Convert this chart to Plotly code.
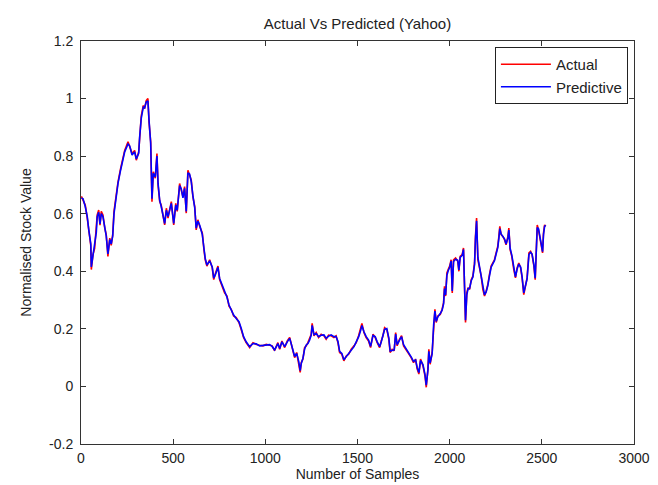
import plotly.graph_objects as go

samples = [
    2, 11, 23, 34, 42, 53, 56, 65, 74, 83,
    88, 96, 103, 110, 119, 129, 137, 146, 156, 164,
    172, 179, 191, 201, 215, 228, 237, 255, 264, 277,
    291, 300, 313, 318, 327, 338, 345, 354, 363, 369,
    378, 385, 392, 403, 412, 418, 427, 435, 445, 454,
    463, 472, 490, 503, 514, 522, 535, 544, 553, 562,
    571, 580, 589, 598, 607, 617, 625, 634, 644, 658,
    667, 674, 683, 698, 712, 720, 730, 743, 752, 766,
    779, 792, 803, 815, 828, 842, 857, 869, 882, 896,
    915, 933, 951, 969, 987, 1005, 1023, 1037, 1050, 1068,
    1078, 1090, 1105, 1119, 1132, 1140, 1150, 1159, 1170, 1181,
    1189, 1195, 1204, 1213, 1222, 1231, 1240, 1249, 1254, 1264,
    1276, 1289, 1303, 1318, 1330, 1343, 1357, 1372, 1384, 1394,
    1403, 1415, 1426, 1439, 1452, 1466, 1481, 1493, 1506, 1517,
    1524, 1535, 1547, 1560, 1571, 1584, 1596, 1607, 1620, 1629,
    1638, 1647, 1659, 1670, 1677, 1688, 1699, 1707, 1715, 1728,
    1739, 1750, 1764, 1779, 1791, 1804, 1815, 1824, 1833, 1842,
    1855, 1866, 1873, 1882, 1887, 1894, 1905, 1913, 1920, 1927,
    1936, 1949, 1959, 1967, 1972, 1978, 1985, 1992, 2000, 2008,
    2014, 2021, 2032, 2044, 2050, 2057, 2068, 2075, 2081, 2086,
    2093, 2100, 2108, 2117, 2126, 2135, 2140, 2146, 2153, 2162,
    2171, 2180, 2189, 2198, 2207, 2216, 2225, 2234, 2243, 2252,
    2261, 2267, 2272, 2279, 2289, 2298, 2306, 2316, 2321, 2328,
    2337, 2348, 2357, 2366, 2375, 2385, 2393, 2402, 2412, 2420,
    2430, 2439, 2447, 2457, 2464, 2469, 2475, 2482, 2489, 2496,
    2504, 2509, 2515, 2521,
]

actual = [
    0.66, 0.648, 0.63, 0.585, 0.55, 0.49, 0.406, 0.458, 0.48, 0.54,
    0.596, 0.613, 0.56, 0.608, 0.596, 0.55, 0.527, 0.452, 0.515, 0.49,
    0.527, 0.608, 0.677, 0.711, 0.757, 0.792, 0.82, 0.85, 0.832, 0.809,
    0.82, 0.786, 0.815, 0.872, 0.94, 0.976, 0.965, 0.993, 1.0, 0.919,
    0.85, 0.642, 0.746, 0.723, 0.809, 0.70, 0.642, 0.63, 0.59, 0.561,
    0.619, 0.585, 0.642, 0.561, 0.636, 0.608, 0.705, 0.682, 0.659, 0.694,
    0.602, 0.751, 0.734, 0.717, 0.659, 0.625, 0.544, 0.579, 0.556, 0.533,
    0.475, 0.44, 0.418, 0.44, 0.412, 0.371, 0.394, 0.418, 0.371, 0.348,
    0.325, 0.314, 0.279, 0.268, 0.245, 0.239, 0.222, 0.198, 0.17, 0.152,
    0.135, 0.152, 0.146, 0.143, 0.141, 0.146, 0.143, 0.141, 0.124, 0.152,
    0.129, 0.158, 0.135, 0.158, 0.17, 0.146, 0.118, 0.10, 0.118, 0.083,
    0.049, 0.083, 0.095, 0.135, 0.141, 0.152, 0.164, 0.181, 0.219, 0.176,
    0.187, 0.17, 0.181, 0.176, 0.164, 0.178, 0.176, 0.17, 0.176, 0.152,
    0.118, 0.112, 0.089, 0.106, 0.112, 0.129, 0.141, 0.152, 0.176, 0.198,
    0.219, 0.187, 0.17, 0.158, 0.135, 0.181, 0.17, 0.152, 0.135, 0.158,
    0.176, 0.204, 0.198, 0.164, 0.118, 0.129, 0.124, 0.187, 0.141, 0.164,
    0.176, 0.141, 0.129, 0.112, 0.10, 0.083, 0.095, 0.06, 0.043, 0.095,
    0.072, 0.037, -0.003, 0.06, 0.129, 0.077, 0.118, 0.222, 0.268, 0.222,
    0.245, 0.25, 0.268, 0.291, 0.348, 0.314, 0.394, 0.406, 0.418, 0.44,
    0.325, 0.44, 0.446, 0.435, 0.40, 0.452, 0.458, 0.481, 0.337, 0.222,
    0.325, 0.343, 0.337, 0.371, 0.383, 0.429, 0.521, 0.585, 0.44, 0.412,
    0.383, 0.337, 0.314, 0.331, 0.354, 0.389, 0.418, 0.429, 0.44, 0.464,
    0.487, 0.521, 0.556, 0.527, 0.521, 0.509, 0.492, 0.521, 0.55, 0.475,
    0.452, 0.406, 0.377, 0.412, 0.429, 0.412, 0.377, 0.319, 0.36, 0.377,
    0.464, 0.469, 0.458, 0.418, 0.371, 0.464, 0.561, 0.544, 0.521, 0.492,
    0.464, 0.533, 0.561, 0.556,
]

predicted = [
    0.655, 0.652, 0.625, 0.59, 0.545, 0.495, 0.415, 0.452, 0.485, 0.535,
    0.59, 0.605, 0.565, 0.60, 0.59, 0.555, 0.522, 0.46, 0.51, 0.495,
    0.522, 0.60, 0.67, 0.706, 0.752, 0.788, 0.815, 0.842, 0.836, 0.804,
    0.815, 0.79, 0.81, 0.865, 0.932, 0.97, 0.968, 0.988, 0.992, 0.925,
    0.845, 0.652, 0.74, 0.728, 0.80, 0.706, 0.646, 0.626, 0.594, 0.566,
    0.612, 0.59, 0.636, 0.566, 0.63, 0.612, 0.698, 0.686, 0.655, 0.688,
    0.608, 0.742, 0.738, 0.712, 0.663, 0.62, 0.55, 0.574, 0.56, 0.528,
    0.48, 0.445, 0.422, 0.436, 0.415, 0.376, 0.39, 0.414, 0.375, 0.352,
    0.328, 0.31, 0.283, 0.265, 0.248, 0.236, 0.225, 0.202, 0.173, 0.155,
    0.138, 0.149, 0.148, 0.141, 0.143, 0.144, 0.145, 0.139, 0.127, 0.149,
    0.132, 0.155, 0.138, 0.155, 0.167, 0.149, 0.121, 0.104, 0.115, 0.087,
    0.055, 0.08, 0.098, 0.13, 0.144, 0.149, 0.161, 0.178, 0.212, 0.18,
    0.184, 0.173, 0.178, 0.179, 0.167, 0.175, 0.179, 0.173, 0.173, 0.156,
    0.122, 0.115, 0.093, 0.103, 0.115, 0.126, 0.138, 0.155, 0.172, 0.194,
    0.212, 0.19, 0.173, 0.161, 0.139, 0.177, 0.173, 0.155, 0.138, 0.155,
    0.173, 0.198, 0.201, 0.168, 0.123, 0.126, 0.127, 0.182, 0.145, 0.161,
    0.173, 0.145, 0.132, 0.116, 0.103, 0.087, 0.092, 0.065, 0.048, 0.09,
    0.076, 0.042, 0.004, 0.056, 0.122, 0.082, 0.114, 0.214, 0.262, 0.226,
    0.242, 0.253, 0.265, 0.287, 0.34, 0.318, 0.386, 0.402, 0.414, 0.436,
    0.332, 0.434, 0.442, 0.438, 0.405, 0.448, 0.455, 0.476, 0.345, 0.23,
    0.318, 0.34, 0.34, 0.367, 0.38, 0.424, 0.512, 0.575, 0.448, 0.415,
    0.386, 0.342, 0.318, 0.328, 0.35, 0.384, 0.414, 0.426, 0.437, 0.46,
    0.482, 0.515, 0.548, 0.53, 0.518, 0.512, 0.495, 0.516, 0.543, 0.48,
    0.456, 0.41, 0.381, 0.408, 0.425, 0.415, 0.381, 0.325, 0.356, 0.374,
    0.458, 0.466, 0.46, 0.422, 0.376, 0.458, 0.552, 0.548, 0.524, 0.496,
    0.468, 0.527, 0.556, 0.56,
]

x_ticks = [0, 500, 1000, 1500, 2000, 2500, 3000]
y_ticks = [-0.2, 0, 0.2, 0.4, 0.6, 0.8, 1, 1.2]
y_tick_labels = ["-0.2", "0", "0.2", "0.4", "0.6", "0.8", "1", "1.2"]

FONT = "Liberation Sans, Arial, sans-serif"
TXT = "#222222"
AX = "#333333"

fig = go.Figure()
fig.add_trace(go.Scatter(x=samples, y=actual, mode="lines", name="Actual",
                         line=dict(color="#FF0000", width=1.6)))
fig.add_trace(go.Scatter(x=samples, y=predicted, mode="lines", name="Predictive",
                         line=dict(color="#0000FF", width=1.6)))

fig.update_layout(
    width=658, height=485,
    margin=dict(l=73, r=32, t=33, b=49),
    paper_bgcolor="white", plot_bgcolor="white",
    font=dict(family=FONT, size=14, color=TXT),
    title=dict(text="Actual Vs Predicted (Yahoo)", x=0.5, xref="paper",
               xanchor="center", y=1 - 16 / 485, yanchor="middle",
               font=dict(size=15, color=TXT, family=FONT)),
    showlegend=True,
    legend=dict(x=0.989, y=0.985, xanchor="right", yanchor="top",
                bgcolor="white", bordercolor="#222222", borderwidth=1,
                font=dict(size=15, color=TXT, family=FONT),
                itemwidth=50, tracegroupgap=0),
)

fig.update_xaxes(
    range=[0, 3000], tickvals=x_ticks, ticks="inside", ticklen=5,
    tickcolor=AX, showline=True, linecolor=AX, linewidth=1, mirror="ticks",
    showgrid=False, zeroline=False, ticklabelstandoff=1,
    tickfont=dict(size=14, color=TXT, family=FONT),
    title=dict(text="Number of Samples", standoff=0,
               font=dict(size=14, color=TXT, family=FONT)),
    automargin=False,
)
fig.update_yaxes(
    range=[-0.2, 1.2], tickvals=y_ticks, ticktext=y_tick_labels,
    ticks="inside", ticklen=5, tickcolor=AX, showline=True, linecolor=AX,
    linewidth=1, mirror="ticks", showgrid=False, zeroline=False,
    ticklabelstandoff=4,
    tickfont=dict(size=14, color=TXT, family=FONT),
    title=dict(text="Normalised Stock Value", standoff=14,
               font=dict(size=14, color=TXT, family=FONT)),
    automargin=False,
)

fig.write_html("out.html")
